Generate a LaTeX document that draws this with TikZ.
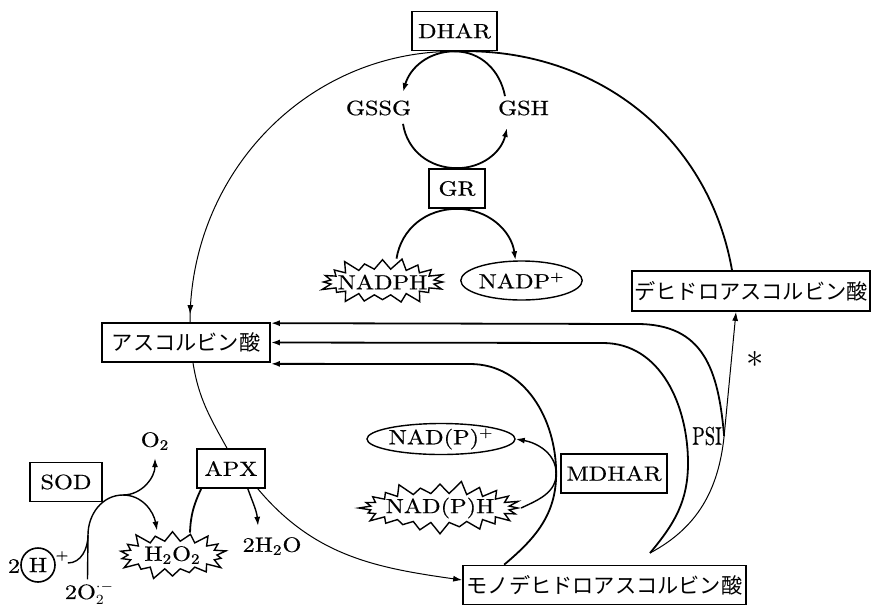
\documentclass[tikz,border=0pt]{standalone}
\usepackage{fontspec}
\usepackage{graphicx}
\usetikzlibrary{arrows.meta,shapes.geometric,shapes.symbols,calc,decorations.markings}
\newfontfamily\jpfont{Noto Sans CJK JP}
% widened, slightly heavier Latin lettering
\newfontfamily\lmwide{lmroman10-regular.otf}[FakeStretch=1.18,FakeBold=0.5]
\newfontfamily\lmnarrow{lmroman10-regular.otf}[FakeStretch=0.72,FakeBold=0.5]
\begin{document}
\begin{tikzpicture}[x=0.5pt,y=0.5pt,
  every node/.style={inner sep=1pt},
  latin/.style={font=\lmwide\fontsize{10.3}{12}\selectfont},
  jptext/.style={font=\jpfont\fontsize{10.6}{12}\selectfont},
  box/.style={draw,line width=0.85pt,rectangle,minimum height=19.5pt,inner sep=0pt},
  thinl/.style={line width=0.5pt},
  midl/.style={line width=0.7pt},
  thickl/.style={line width=0.9pt},
  arr/.style={-{Latex[length=4.5pt,width=3pt]}},
  burst/.style={draw,line width=0.7pt,starburst,inner sep=0pt},
  oval/.style={draw,line width=0.7pt,ellipse,inner sep=0pt},
]
\fill[white] (0,0) rectangle (872,-606);
\useasboundingbox (0,0) rectangle (872,-606);

% ---- nodes ----
\node[box,latin,minimum width=42.5pt] (dhar) at (454.5,-31) {DHAR};
\node[latin] (gssg) at (378.5,-108) {GSSG};
\node[latin] (gsh) at (523.5,-108) {GSH};
\node[box,latin,minimum width=28pt] (gr) at (457,-188.5) {GR};
\node[burst,latin,starburst points=20,starburst point height=6.5pt,inner xsep=-4pt,minimum height=26pt] (nadph) at (382.5,-282) {NADPH};
\node[oval,latin,minimum width=59.5pt,minimum height=19.5pt] (nadp) at (521.5,-280.5) {NADP\textsuperscript{+}};
\node[box,jptext,minimum width=119pt,minimum height=20pt] (dha) at (751,-291) {デヒドロアスコルビン酸};
\node[box,jptext,minimum width=84pt] (asc) at (186,-342.5) {アスコルビン酸};
\node[box,jptext,minimum width=141.5pt] (mono) at (604.5,-585) {モノデヒドロアスコルビン酸};
\node[box,latin,minimum width=53pt] (mdhar) at (614,-473.5) {MDHAR};
\node[oval,latin,minimum width=59pt,minimum height=15.5pt] (nadpp) at (441,-439) {NAD(P)\textsuperscript{+}};
\node[burst,latin,starburst points=24,starburst point height=6.5pt,inner xsep=-2.5pt,minimum height=25pt] (nadph2) at (440,-508) {NAD(P)H};
\node[box,latin,minimum width=36pt] (sod) at (66,-482) {SOD};
\node[box,latin,minimum width=34pt] (apx) at (231,-468.5) {APX};
\node[latin] (o2) at (155,-441) {O\textsubscript{2}};
\node[burst,latin,starburst points=18,starburst point height=6.5pt,minimum width=57.5pt,minimum height=27pt] (h2o2) at (172.5,-555) {H\textsubscript{2}O\textsubscript{2}};
\node[latin] (h2o) at (272,-546) {2H\textsubscript{2}O};
\node[latin] (two) at (14,-566) {2};
\node[draw,circle,line width=0.8pt,latin,minimum size=17pt,inner sep=0pt] (hcirc) at (38,-565) {H};
\node[font=\lmwide\fontsize{7}{8}\selectfont] (plus) at (62,-556) {+};
\node[latin] (o2m) at (89.5,-593) {2O$_2^{\cdot-}$};
\node[font=\lmnarrow\fontsize{12.8}{14}\selectfont] (psi) at (707,-436) {PSI};
\node[font=\fontsize{17}{17}\selectfont] (star) at (755,-359) {$\ast$};

% ---- ascorbate cycle ----
\draw[thinl,postaction={decorate},decoration={markings,mark=at position -4pt with {\arrow{Latex[length=4.5pt,width=3pt]}}}]
  (dhar.south) to[out=180,in=90] ([xshift=2pt]asc.north);
\draw[thickl] (dhar.south) to[out=2,in=100] ([xshift=-9.5pt]dha.north);
\draw[thinl] ([xshift=3.5pt]asc.south) to[out=-81,in=119] ([xshift=-2pt]apx.north);
\draw[thinl,arr] ([xshift=-4pt]apx.south east) to[out=-50,in=172] ([yshift=2.5pt]mono.west);

% ---- glutathione loop ----
\draw[thickl,arr] ([shift={(-9.25pt,1pt)}]gsh.north) to[out=101,in=0] (dhar.south)
  to[out=180,in=74] ([shift={(12.25pt,3pt)}]gssg.north);
\draw[thickl,arr] ([shift={(12.25pt,-3pt)}]gssg.south) to[out=-81,in=180] (gr.north)
  to[out=0,in=-103] ([shift={(-8.25pt,-5pt)}]gsh.south);
\draw[thickl,arr] ([xshift=7pt]nadph.north) to[out=81,in=180] (gr.south)
  to[out=0,in=98] ([xshift=-3pt]nadp.north);

% ---- monodehydroascorbate routes ----
\coordinate (psi0) at (650,-553);
\draw[thinl,arr] (psi0) to[out=28,in=-96] (psi.east) -- ([xshift=-7.5pt]dha.south);
\draw[thickl,arr] (psi.east) to[out=95,in=0,looseness=1.2] (637,-324) -- ([yshift=-0.5pt]asc.north east);
\draw[thickl,arr] (psi0) to[out=50,in=-90] (688,-463) to[out=90,in=0] (603,-343) -- (asc.east);
\draw[thickl,arr] ([xshift=21pt]mono.north west) to[out=40,in=-90] ([xshift=-2pt]mdhar.west)
  to[out=90,in=0] (470,-364) -- ([yshift=-0.5pt]asc.south east);
\draw[midl,arr] (nadph2.east) to[out=25,in=-90] ([xshift=-2pt]mdhar.west) to[out=90,in=-10] (nadpp.east);

% ---- superoxide dismutation and peroxidase ----
\coordinate (sodtop) at (123,-495);
\coordinate (sodjoin) at (88,-535);
\draw[midl,arr] ([xshift=-1pt]o2m.north) -- (sodjoin) to[out=90,in=180] (sodtop)
  to[out=0,in=100] ([xshift=-7.75pt]h2o2.north);
\draw[midl,arr] (sodtop) to[out=0,in=-90] ([yshift=-3pt]o2.south);
\draw[midl] ([shift={(6pt,1pt)}]hcirc.east) to[out=0,in=-90] (sodjoin);
\draw[thickl] ([shift={(8.75pt,-1pt)}]h2o2.north) to[out=88,in=-115] ([xshift=2.5pt]apx.south west);
\draw[midl,arr] ([xshift=-9pt]apx.south east) to[out=-70,in=95] ([shift={(-7pt,4.5pt)}]h2o.north);
\end{tikzpicture}
\end{document}
